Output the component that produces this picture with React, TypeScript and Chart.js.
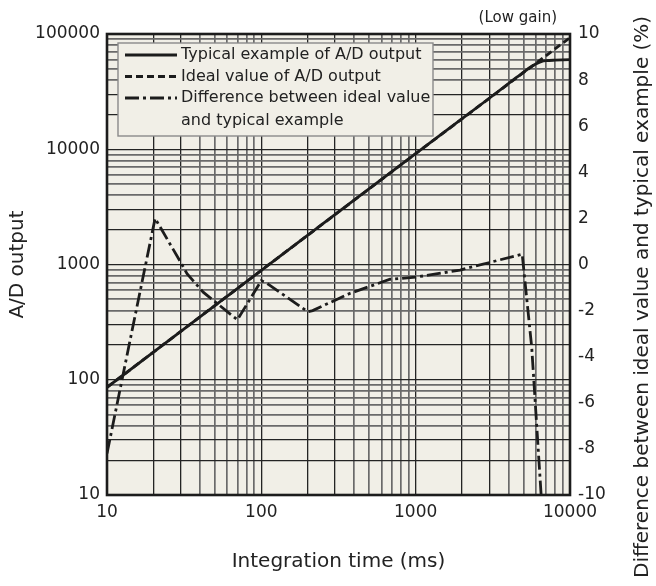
import React, { useEffect, useRef } from 'react';
import { Chart, registerables } from 'chart.js';

Chart.register(...registerables);

// ---- data ----
const typicalX = [10, 100, 1000, 3000, 4500, 5000, 5500, 6000, 6500, 7000, 8000, 10000];
const typicalY = [86, 890, 9150, 27700, 42000, 46600, 51200, 55000, 57600, 58700, 59300, 59900];

const idealX = [10, 100, 1000, 10000];
const idealY = [86, 890, 9150, 93000];

const diffX = [10, 14.5, 20.5, 30, 33, 42, 70, 100, 108, 200, 215, 376, 683, 1000, 1940, 4900, 5650, 6500];
const diffY = [-8.2, -2.9, 2.0, 0.1, -0.4, -1.2, -2.4, -0.7, -0.8, -2.05, -2.0, -1.25, -0.64, -0.55, -0.24, 0.45, -3.6, -10];

const xLabels = [10, 100, 1000, 10000];
const leftLabels = [10, 100, 1000, 10000, 100000];
const rightMin = -10;
const rightMax = 10;
const rightStep = 2;

const seriesNames = [
  'Typical example of A/D output',
  'Ideal value of A/D output',
  'Difference between ideal value',
];
const seriesNameCont = 'and typical example';
const gainNote = '(Low gain)';
const xTitle = 'Integration time (ms)';
const leftTitle = 'A/D output';
const rightTitle = 'Difference between ideal value and typical example (%)';

// ---- styles ----
const FONT = '"DejaVu Sans", Verdana, sans-serif';
const BG = '#f1efe7';
const INK = '#1c1c1c';
const TEXT = '#222222';
const DASH_IDEAL = [7, 4];
const DASH_DIFF = [14, 4, 3, 4];

function logTicks(min: number, max: number) {
  const out: number[] = [];
  for (let e = Math.round(Math.log10(min)); e <= Math.round(Math.log10(max)); e++) {
    for (let m = 1; m <= 9; m++) {
      const v = m * Math.pow(10, e);
      if (v >= min - 1e-9 && v <= max + 1e-9) out.push(v);
    }
  }
  return out;
}

function sig(v: number) {
  const e = Math.floor(Math.log10(v) + 1e-9);
  return Math.round(v / Math.pow(10, e));
}

const gridColor = (ctx: any) => {
  const v = ctx.tick && ctx.tick.value;
  if (!v) return '#6a6a6a';
  return sig(v) <= 3 ? '#242424' : '#6a6a6a';
};
const gridWidth = (ctx: any) => {
  const v = ctx.tick && ctx.tick.value;
  if (!v) return 1.6;
  return sig(v) <= 3 ? 1.3 : 1.7;
};

const decor = {
  id: 'decor',
  beforeDraw(chart: any) {
    const { ctx, chartArea: a } = chart;
    ctx.save();
    ctx.fillStyle = BG;
    ctx.fillRect(a.left, a.top, a.right - a.left, a.bottom - a.top);
    ctx.restore();
  },
  afterDraw(chart: any) {
    const { ctx, chartArea: a } = chart;
    ctx.save();
    // frame
    ctx.strokeStyle = INK;
    ctx.lineWidth = 2.6;
    ctx.strokeRect(a.left, a.top, a.right - a.left, a.bottom - a.top);

    // legend box
    const lx = a.left + 11;
    const ly = a.top + 9;
    const lw = 315;
    const lh = 93;
    ctx.fillStyle = BG;
    ctx.fillRect(lx, ly, lw, lh);
    ctx.strokeStyle = '#8a8a8a';
    ctx.lineWidth = 1.4;
    ctx.strokeRect(lx, ly, lw, lh);

    const rows = [ly + 12, ly + 33.5, ly + 55, ly + 78];
    const sx0 = lx + 7;
    const sx1 = lx + 59;
    const dashes = [[], DASH_IDEAL, DASH_DIFF];
    ctx.strokeStyle = INK;
    ctx.lineWidth = 2.8;
    for (let i = 0; i < 3; i++) {
      ctx.setLineDash(dashes[i]);
      ctx.beginPath();
      ctx.moveTo(sx0, rows[i]);
      ctx.lineTo(sx1, rows[i]);
      ctx.stroke();
    }
    ctx.setLineDash([]);
    ctx.fillStyle = TEXT;
    ctx.font = `16px ${FONT}`;
    ctx.textBaseline = 'middle';
    ctx.textAlign = 'left';
    for (let i = 0; i < 3; i++) ctx.fillText(seriesNames[i], sx1 + 4, rows[i]);
    ctx.fillText(seriesNameCont, sx1 + 4, rows[3]);

    // gain note
    ctx.font = `15px ${FONT}`;
    ctx.textAlign = 'right';
    ctx.textBaseline = 'middle';
    ctx.fillText(gainNote, a.right - 13, a.top - 16);

    // right title (reads bottom-to-top, starts near the page bottom)
    ctx.font = `20px ${FONT}`;
    ctx.translate(643, 578);
    ctx.rotate(-Math.PI / 2);
    ctx.textAlign = 'left';
    ctx.textBaseline = 'middle';
    ctx.fillText(rightTitle, 0, 0);
    ctx.restore();
  },
};

export default function App() {
  const ref = useRef<HTMLCanvasElement | null>(null);
  useEffect(() => {
    if (!ref.current) return;
    const pts = (xs: number[], ys: number[]) => xs.map((x, i) => ({ x, y: ys[i] }));
    const chart = new Chart(ref.current, {
      type: 'line',
      data: {
        datasets: [
          {
            label: seriesNames[0],
            data: pts(typicalX, typicalY),
            borderColor: INK,
            borderWidth: 2.8,
            pointRadius: 0,
            tension: 0.35,
            yAxisID: 'y',
          },
          {
            label: seriesNames[1],
            data: pts(idealX, idealY),
            borderColor: INK,
            borderWidth: 2.8,
            borderDash: DASH_IDEAL,
            pointRadius: 0,
            tension: 0,
            yAxisID: 'y',
          },
          {
            label: seriesNames[2],
            data: pts(diffX, diffY),
            borderColor: INK,
            borderWidth: 2.8,
            borderDash: DASH_DIFF,
            pointRadius: 0,
            tension: 0,
            yAxisID: 'y2',
          },
        ],
      },
      options: {
        animation: false,
        responsive: true,
        maintainAspectRatio: false,
        layout: { padding: { top: 34, left: 0, right: 0, bottom: 0 } },
        plugins: { legend: { display: false }, tooltip: { enabled: false }, title: { display: false } },
        scales: {
          x: {
            type: 'logarithmic',
            position: 'bottom',
            min: 10,
            max: 10000,
            afterBuildTicks: (s: any) => {
              s.ticks = logTicks(10, 10000).map((v) => ({ value: v }));
            },
            afterFit: (s: any) => {
              s.height = 91;
            },
            grid: { color: gridColor, lineWidth: gridWidth, drawTicks: false },
            border: { display: false },
            ticks: {
              autoSkip: false,
              maxRotation: 0,
              padding: 7,
              color: TEXT,
              font: { family: FONT, size: 17 },
              callback: (v: any) => (xLabels.some((p) => Math.abs(p - v) < 1e-6) ? String(v) : ''),
            },
            title: { display: true, text: xTitle, color: TEXT, font: { family: FONT, size: 20 }, padding: { top: 0, bottom: 12 } },
          },
          y: {
            type: 'logarithmic',
            position: 'left',
            min: 10,
            max: 100000,
            afterBuildTicks: (s: any) => {
              s.ticks = logTicks(10, 100000).map((v) => ({ value: v }));
            },
            afterFit: (s: any) => {
              s.width = 107;
            },
            grid: { color: gridColor, lineWidth: gridWidth, drawTicks: false },
            border: { display: false },
            ticks: {
              autoSkip: false,
              padding: 7,
              color: TEXT,
              font: { family: FONT, size: 17 },
              callback: (v: any) => (leftLabels.some((p) => Math.abs(p - v) < 1e-6) ? String(v) : ''),
            },
            title: { display: true, text: leftTitle, color: TEXT, font: { family: FONT, size: 20 }, padding: { top: 6, bottom: 0 } },
          },
          y2: {
            type: 'linear',
            position: 'right',
            min: rightMin,
            max: rightMax,
            afterFit: (s: any) => {
              s.width = 86;
            },
            grid: { display: false, drawTicks: false },
            border: { display: false },
            ticks: {
              stepSize: rightStep,
              padding: 8,
              color: TEXT,
              font: { family: FONT, size: 17 },
            },
          },
        },
      },
      plugins: [decor],
    });
    return () => chart.destroy();
  }, []);
  return (
    <div style={{ position: 'fixed', left: 0, top: 0, width: 656, height: 586, background: '#fff' }}>
      <canvas ref={ref} />
    </div>
  );
}
